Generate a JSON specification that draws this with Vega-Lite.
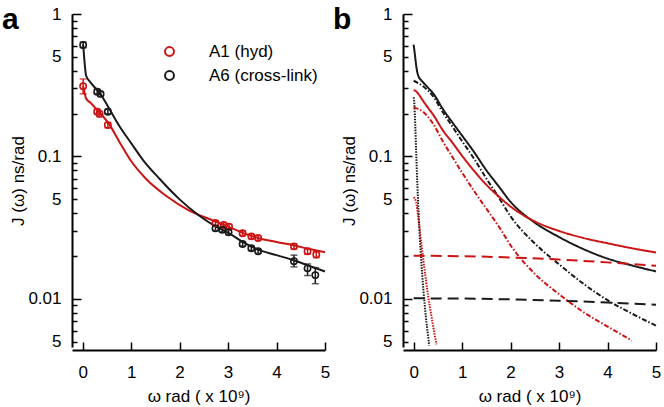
{
"$schema":"https://vega.github.io/schema/vega-lite/v6.json",
"autosize":{"type":"pad"},
"padding":{"left":2,"top":5,"right":2,"bottom":2},
"background":"white",
"spacing":78,
"bounds":"flush",
"config":{
 "view":{"stroke":null},
 "font":"Liberation Sans",
 "axis":{"domainColor":"#000","domainWidth":2,"tickColor":"#000","tickWidth":1.5,"labelFont":"Liberation Sans","labelFontSize":17,"labelColor":"#000","titleFont":"Liberation Sans","titleFontSize":17,"titleFontWeight":"normal","titleColor":"#000","grid":false,"labelFlush":false,"labelOverlap":false}
},
"resolve":{"scale":{"color":"independent","strokeDash":"independent"}},
"datasets":{
 "fitsA":[
  {"s":"A1 (hyd)","w":0.01,"J":0.311},{"s":"A1 (hyd)","w":0.04,"J":0.28},{"s":"A1 (hyd)","w":0.07,"J":0.255},{"s":"A1 (hyd)","w":0.15,"J":0.24},{"s":"A1 (hyd)","w":0.3,"J":0.212},{"s":"A1 (hyd)","w":0.55,"J":0.168},{"s":"A1 (hyd)","w":0.75,"J":0.128},{"s":"A1 (hyd)","w":0.97,"J":0.096},{"s":"A1 (hyd)","w":1.31,"J":0.0695},{"s":"A1 (hyd)","w":1.72,"J":0.053},{"s":"A1 (hyd)","w":2.2,"J":0.0417},{"s":"A1 (hyd)","w":2.69,"J":0.0355},{"s":"A1 (hyd)","w":3.0,"J":0.0322},{"s":"A1 (hyd)","w":3.3,"J":0.0291},{"s":"A1 (hyd)","w":3.62,"J":0.0268},{"s":"A1 (hyd)","w":4.0,"J":0.0251},{"s":"A1 (hyd)","w":4.37,"J":0.0237},{"s":"A1 (hyd)","w":4.7,"J":0.0223},{"s":"A1 (hyd)","w":5.0,"J":0.0213},
  {"s":"A6 (cross-link)","w":0.01,"J":0.61},{"s":"A6 (cross-link)","w":0.03,"J":0.5},{"s":"A6 (cross-link)","w":0.05,"J":0.42},{"s":"A6 (cross-link)","w":0.07,"J":0.37},{"s":"A6 (cross-link)","w":0.15,"J":0.335},{"s":"A6 (cross-link)","w":0.25,"J":0.305},{"s":"A6 (cross-link)","w":0.35,"J":0.28},{"s":"A6 (cross-link)","w":0.52,"J":0.225},{"s":"A6 (cross-link)","w":0.75,"J":0.165},{"s":"A6 (cross-link)","w":1.0,"J":0.124},{"s":"A6 (cross-link)","w":1.25,"J":0.094},{"s":"A6 (cross-link)","w":1.59,"J":0.0695},{"s":"A6 (cross-link)","w":2.0,"J":0.05},{"s":"A6 (cross-link)","w":2.4,"J":0.0385},{"s":"A6 (cross-link)","w":2.75,"J":0.0322},{"s":"A6 (cross-link)","w":3.0,"J":0.0292},{"s":"A6 (cross-link)","w":3.3,"J":0.0252},{"s":"A6 (cross-link)","w":3.62,"J":0.0222},{"s":"A6 (cross-link)","w":4.0,"J":0.0203},{"s":"A6 (cross-link)","w":4.37,"J":0.0186},{"s":"A6 (cross-link)","w":4.65,"J":0.0172},{"s":"A6 (cross-link)","w":5.0,"J":0.0156}
 ],
 "ptsA":[
  {"s":"A1 (hyd)","w":0.01,"J":0.311,"lo":0.275,"hi":0.35},
  {"s":"A1 (hyd)","w":0.30,"J":0.206,"lo":0.198,"hi":0.214},
  {"s":"A1 (hyd)","w":0.35,"J":0.199,"lo":0.191,"hi":0.207},
  {"s":"A1 (hyd)","w":0.52,"J":0.166,"lo":0.159,"hi":0.173},
  {"s":"A1 (hyd)","w":2.74,"J":0.0341,"lo":0.0328,"hi":0.0354},
  {"s":"A1 (hyd)","w":2.91,"J":0.033,"lo":0.0318,"hi":0.0343},
  {"s":"A1 (hyd)","w":3.02,"J":0.0322,"lo":0.031,"hi":0.0334},
  {"s":"A1 (hyd)","w":3.30,"J":0.0289,"lo":0.0279,"hi":0.03},
  {"s":"A1 (hyd)","w":3.48,"J":0.0275,"lo":0.0265,"hi":0.0285},
  {"s":"A1 (hyd)","w":3.62,"J":0.0268,"lo":0.0258,"hi":0.0278},
  {"s":"A1 (hyd)","w":4.36,"J":0.0234,"lo":0.0224,"hi":0.0244},
  {"s":"A1 (hyd)","w":4.64,"J":0.0216,"lo":0.0206,"hi":0.0226},
  {"s":"A1 (hyd)","w":4.82,"J":0.0205,"lo":0.0195,"hi":0.0215},
  {"s":"A6 (cross-link)","w":0.01,"J":0.606,"lo":0.58,"hi":0.635},
  {"s":"A6 (cross-link)","w":0.30,"J":0.285,"lo":0.275,"hi":0.296},
  {"s":"A6 (cross-link)","w":0.37,"J":0.275,"lo":0.265,"hi":0.285},
  {"s":"A6 (cross-link)","w":0.52,"J":0.206,"lo":0.199,"hi":0.214},
  {"s":"A6 (cross-link)","w":2.74,"J":0.0313,"lo":0.0302,"hi":0.0324},
  {"s":"A6 (cross-link)","w":2.88,"J":0.0306,"lo":0.0295,"hi":0.0317},
  {"s":"A6 (cross-link)","w":3.01,"J":0.0294,"lo":0.0284,"hi":0.0305},
  {"s":"A6 (cross-link)","w":3.30,"J":0.0243,"lo":0.0235,"hi":0.0251},
  {"s":"A6 (cross-link)","w":3.48,"J":0.0227,"lo":0.0219,"hi":0.0235},
  {"s":"A6 (cross-link)","w":3.62,"J":0.0216,"lo":0.0209,"hi":0.0223},
  {"s":"A6 (cross-link)","w":4.36,"J":0.0184,"lo":0.0168,"hi":0.0203},
  {"s":"A6 (cross-link)","w":4.64,"J":0.0164,"lo":0.0146,"hi":0.0176},
  {"s":"A6 (cross-link)","w":4.80,"J":0.0147,"lo":0.0128,"hi":0.0166}
 ],
 "linesB":[
  {"s":"A6 (cross-link)","c":"total","w":0,"J":0.61},{"s":"A6 (cross-link)","c":"total","w":0.025,"J":0.52},{"s":"A6 (cross-link)","c":"total","w":0.05,"J":0.44},{"s":"A6 (cross-link)","c":"total","w":0.075,"J":0.39},{"s":"A6 (cross-link)","c":"total","w":0.1,"J":0.365},{"s":"A6 (cross-link)","c":"total","w":0.15,"J":0.345},{"s":"A6 (cross-link)","c":"total","w":0.2,"J":0.33},{"s":"A6 (cross-link)","c":"total","w":0.3,"J":0.303},{"s":"A6 (cross-link)","c":"total","w":0.4,"J":0.278},{"s":"A6 (cross-link)","c":"total","w":0.6,"J":0.216},{"s":"A6 (cross-link)","c":"total","w":0.8,"J":0.173},{"s":"A6 (cross-link)","c":"total","w":1.0,"J":0.14},{"s":"A6 (cross-link)","c":"total","w":1.25,"J":0.107},{"s":"A6 (cross-link)","c":"total","w":1.5,"J":0.08},{"s":"A6 (cross-link)","c":"total","w":1.75,"J":0.062},{"s":"A6 (cross-link)","c":"total","w":2.0,"J":0.048},{"s":"A6 (cross-link)","c":"total","w":2.5,"J":0.0343},{"s":"A6 (cross-link)","c":"total","w":3.0,"J":0.0272},{"s":"A6 (cross-link)","c":"total","w":3.5,"J":0.0224},{"s":"A6 (cross-link)","c":"total","w":4.0,"J":0.0192},{"s":"A6 (cross-link)","c":"total","w":4.5,"J":0.0172},{"s":"A6 (cross-link)","c":"total","w":5.0,"J":0.0156},
  {"s":"A6 (cross-link)","c":"slow","w":0,"J":0.34},{"s":"A6 (cross-link)","c":"slow","w":0.2,"J":0.31},{"s":"A6 (cross-link)","c":"slow","w":0.4,"J":0.265},{"s":"A6 (cross-link)","c":"slow","w":0.6,"J":0.205},{"s":"A6 (cross-link)","c":"slow","w":0.8,"J":0.162},{"s":"A6 (cross-link)","c":"slow","w":1.0,"J":0.128},{"s":"A6 (cross-link)","c":"slow","w":1.25,"J":0.096},{"s":"A6 (cross-link)","c":"slow","w":1.5,"J":0.07},{"s":"A6 (cross-link)","c":"slow","w":1.75,"J":0.052},{"s":"A6 (cross-link)","c":"slow","w":2.0,"J":0.038},{"s":"A6 (cross-link)","c":"slow","w":2.5,"J":0.0245},{"s":"A6 (cross-link)","c":"slow","w":2.87,"J":0.019},{"s":"A6 (cross-link)","c":"slow","w":3.0,"J":0.0175},{"s":"A6 (cross-link)","c":"slow","w":3.5,"J":0.0128},{"s":"A6 (cross-link)","c":"slow","w":4.0,"J":0.0098},{"s":"A6 (cross-link)","c":"slow","w":4.5,"J":0.0079},{"s":"A6 (cross-link)","c":"slow","w":5.0,"J":0.0065},
  {"s":"A6 (cross-link)","c":"fast","w":0,"J":0.26},{"s":"A6 (cross-link)","c":"fast","w":0.01,"J":0.247},{"s":"A6 (cross-link)","c":"fast","w":0.025,"J":0.195},{"s":"A6 (cross-link)","c":"fast","w":0.05,"J":0.112},{"s":"A6 (cross-link)","c":"fast","w":0.075,"J":0.0654},{"s":"A6 (cross-link)","c":"fast","w":0.1,"J":0.0413},{"s":"A6 (cross-link)","c":"fast","w":0.15,"J":0.0201},{"s":"A6 (cross-link)","c":"fast","w":0.2,"J":0.0117},{"s":"A6 (cross-link)","c":"fast","w":0.25,"J":0.0076},{"s":"A6 (cross-link)","c":"fast","w":0.3,"J":0.0054},{"s":"A6 (cross-link)","c":"fast","w":0.32,"J":0.0047},
  {"s":"A6 (cross-link)","c":"const","w":0,"J":0.0101},{"s":"A6 (cross-link)","c":"const","w":1,"J":0.01006},{"s":"A6 (cross-link)","c":"const","w":2,"J":0.00993},{"s":"A6 (cross-link)","c":"const","w":3,"J":0.00972},{"s":"A6 (cross-link)","c":"const","w":4,"J":0.00944},{"s":"A6 (cross-link)","c":"const","w":5,"J":0.0091},
  {"s":"A1 (hyd)","c":"total","w":0,"J":0.293},{"s":"A1 (hyd)","c":"total","w":0.05,"J":0.287},{"s":"A1 (hyd)","c":"total","w":0.1,"J":0.274},{"s":"A1 (hyd)","c":"total","w":0.2,"J":0.244},{"s":"A1 (hyd)","c":"total","w":0.3,"J":0.219},{"s":"A1 (hyd)","c":"total","w":0.4,"J":0.197},{"s":"A1 (hyd)","c":"total","w":0.6,"J":0.153},{"s":"A1 (hyd)","c":"total","w":0.8,"J":0.125},{"s":"A1 (hyd)","c":"total","w":1.0,"J":0.101},{"s":"A1 (hyd)","c":"total","w":1.25,"J":0.079},{"s":"A1 (hyd)","c":"total","w":1.5,"J":0.0633},{"s":"A1 (hyd)","c":"total","w":1.75,"J":0.0526},{"s":"A1 (hyd)","c":"total","w":2.0,"J":0.0445},{"s":"A1 (hyd)","c":"total","w":2.5,"J":0.035},{"s":"A1 (hyd)","c":"total","w":3.0,"J":0.03},{"s":"A1 (hyd)","c":"total","w":3.5,"J":0.0268},{"s":"A1 (hyd)","c":"total","w":4.0,"J":0.0246},{"s":"A1 (hyd)","c":"total","w":4.5,"J":0.0227},{"s":"A1 (hyd)","c":"total","w":5.0,"J":0.0212},
  {"s":"A1 (hyd)","c":"slow","w":0,"J":0.221},{"s":"A1 (hyd)","c":"slow","w":0.2,"J":0.205},{"s":"A1 (hyd)","c":"slow","w":0.4,"J":0.17},{"s":"A1 (hyd)","c":"slow","w":0.6,"J":0.128},{"s":"A1 (hyd)","c":"slow","w":0.8,"J":0.099},{"s":"A1 (hyd)","c":"slow","w":1.0,"J":0.077},{"s":"A1 (hyd)","c":"slow","w":1.25,"J":0.057},{"s":"A1 (hyd)","c":"slow","w":1.5,"J":0.043},{"s":"A1 (hyd)","c":"slow","w":1.75,"J":0.0325},{"s":"A1 (hyd)","c":"slow","w":2.0,"J":0.0238},{"s":"A1 (hyd)","c":"slow","w":2.5,"J":0.015},{"s":"A1 (hyd)","c":"slow","w":3.0,"J":0.0108},{"s":"A1 (hyd)","c":"slow","w":3.5,"J":0.0081},{"s":"A1 (hyd)","c":"slow","w":4.0,"J":0.0064},{"s":"A1 (hyd)","c":"slow","w":4.5,"J":0.0051},
  {"s":"A1 (hyd)","c":"fast","w":0,"J":0.0517},{"s":"A1 (hyd)","c":"fast","w":0.05,"J":0.048},{"s":"A1 (hyd)","c":"fast","w":0.1,"J":0.036},{"s":"A1 (hyd)","c":"fast","w":0.15,"J":0.026},{"s":"A1 (hyd)","c":"fast","w":0.2,"J":0.0187},{"s":"A1 (hyd)","c":"fast","w":0.25,"J":0.0138},{"s":"A1 (hyd)","c":"fast","w":0.3,"J":0.0104},{"s":"A1 (hyd)","c":"fast","w":0.35,"J":0.0082},{"s":"A1 (hyd)","c":"fast","w":0.4,"J":0.0065},{"s":"A1 (hyd)","c":"fast","w":0.47,"J":0.0048},
  {"s":"A1 (hyd)","c":"const","w":0,"J":0.0201},{"s":"A1 (hyd)","c":"const","w":1,"J":0.01996},{"s":"A1 (hyd)","c":"const","w":2,"J":0.01955},{"s":"A1 (hyd)","c":"const","w":3,"J":0.0189},{"s":"A1 (hyd)","c":"const","w":4,"J":0.01806},{"s":"A1 (hyd)","c":"const","w":5,"J":0.0171}
 ]
},
"hconcat":[
 {
  "width":253,"height":333,
  "title":{"text":"a","anchor":"start","frame":"group","fontSize":30,"fontWeight":"bold","font":"Liberation Sans","baseline":"alphabetic","offset":-37,"dx":-70,"dy":17,"color":"#000"},
  "resolve":{"scale":{"color":"independent"}},
  "layer":[
   {"data":{"name":"fitsA"},"mark":{"type":"line","strokeWidth":2,"interpolate":"monotone"},
    "encoding":{
     "x":{"field":"w","type":"quantitative","scale":{"domain":[-0.22,5],"nice":false,"zero":false},"axis":{"values":[0,1,2,3,4,5],"tickSize":-8,"labelPadding":22,"offset":3,"title":"ω rad ( x 10⁹)","titlePadding":8,"format":"d"}},
     "y":{"field":"J","type":"quantitative","scale":{"type":"log","domain":[0.0046,1],"nice":false},"axis":{"values":[0.005,0.006,0.007,0.008,0.009,0.01,0.02,0.03,0.04,0.05,0.06,0.07,0.08,0.09,0.1,0.2,0.3,0.4,0.5,0.6,0.7,0.8,0.9,1],"labelExpr":"datum.value==1?'1':datum.value==0.1?'0.1':datum.value==0.01?'0.01':(datum.value==0.5||datum.value==0.05||datum.value==0.005)?'5':''","tickSize":{"condition":{"test":"datum.value==1||datum.value==0.1||datum.value==0.01","value":-9},"value":-5},"labelPadding":{"condition":{"test":"datum.value==1||datum.value==0.1||datum.value==0.01","value":20},"value":16},"title":"J (ω) ns/rad","titleX":-45}},
     "color":{"field":"s","type":"nominal","scale":{"domain":["A1 (hyd)","A6 (cross-link)"],"range":["#cc1414","#1a1a1a"]},"legend":null}
    }},
   {"data":{"name":"ptsA"},"mark":{"type":"errorbar","ticks":{"size":7},"thickness":1.5},
    "encoding":{
     "x":{"field":"w","type":"quantitative","scale":{"domain":[-0.22,5],"nice":false,"zero":false},"axis":{"values":[0,1,2,3,4,5],"tickSize":-8,"labelPadding":22,"offset":3,"title":"ω rad ( x 10⁹)","titlePadding":8,"format":"d"}},
     "y":{"field":"lo","type":"quantitative","scale":{"type":"log","domain":[0.0046,1],"nice":false},"axis":{"values":[0.005,0.006,0.007,0.008,0.009,0.01,0.02,0.03,0.04,0.05,0.06,0.07,0.08,0.09,0.1,0.2,0.3,0.4,0.5,0.6,0.7,0.8,0.9,1],"labelExpr":"datum.value==1?'1':datum.value==0.1?'0.1':datum.value==0.01?'0.01':(datum.value==0.5||datum.value==0.05||datum.value==0.005)?'5':''","tickSize":{"condition":{"test":"datum.value==1||datum.value==0.1||datum.value==0.01","value":-9},"value":-5},"labelPadding":{"condition":{"test":"datum.value==1||datum.value==0.1||datum.value==0.01","value":20},"value":16},"title":"J (ω) ns/rad","titleX":-45}},
     "y2":{"field":"hi"},
     "color":{"field":"s","type":"nominal","scale":{"domain":["A1 (hyd)","A6 (cross-link)"],"range":["#cc1414","#1a1a1a"]},"legend":null}
    }},
   {"data":{"name":"ptsA"},"mark":{"type":"point","shape":"circle","filled":false,"size":40,"strokeWidth":1.6,"opacity":1},
    "encoding":{
     "x":{"field":"w","type":"quantitative","scale":{"domain":[-0.22,5],"nice":false,"zero":false},"axis":{"values":[0,1,2,3,4,5],"tickSize":-8,"labelPadding":22,"offset":3,"title":"ω rad ( x 10⁹)","titlePadding":8,"format":"d"}},
     "y":{"field":"J","type":"quantitative","scale":{"type":"log","domain":[0.0046,1],"nice":false},"axis":{"values":[0.005,0.006,0.007,0.008,0.009,0.01,0.02,0.03,0.04,0.05,0.06,0.07,0.08,0.09,0.1,0.2,0.3,0.4,0.5,0.6,0.7,0.8,0.9,1],"labelExpr":"datum.value==1?'1':datum.value==0.1?'0.1':datum.value==0.01?'0.01':(datum.value==0.5||datum.value==0.05||datum.value==0.005)?'5':''","tickSize":{"condition":{"test":"datum.value==1||datum.value==0.1||datum.value==0.01","value":-9},"value":-5},"labelPadding":{"condition":{"test":"datum.value==1||datum.value==0.1||datum.value==0.01","value":20},"value":16},"title":"J (ω) ns/rad","titleX":-45}},
     "color":{"field":"s","type":"nominal","scale":{"domain":["A1 (hyd)","A6 (cross-link)"],"range":["#cc1414","#1a1a1a"]},"legend":{"title":null,"orient":"none","legendX":89,"legendY":29,"symbolType":"circle","symbolSize":80,"symbolStrokeWidth":2,"symbolFillColor":"transparent","symbolOpacity":1,"labelFontSize":17,"labelFont":"Liberation Sans","labelColor":"#000","labelOffset":31,"rowPadding":6,"padding":0}}
    }}
  ]
 },
 {
  "width":253,"height":333,
  "title":{"text":"b","anchor":"start","frame":"group","fontSize":30,"fontWeight":"bold","font":"Liberation Sans","baseline":"alphabetic","offset":-37,"dx":-70,"dy":17,"color":"#000"},
  "data":{"name":"linesB"},
  "mark":{"type":"line","strokeWidth":2,"interpolate":"monotone"},
  "encoding":{
   "x":{"field":"w","type":"quantitative","scale":{"domain":[-0.22,5],"nice":false,"zero":false},"axis":{"values":[0,1,2,3,4,5],"tickSize":-8,"labelPadding":22,"offset":3,"title":"ω rad ( x 10⁹)","titlePadding":8,"format":"d"}},
   "y":{"field":"J","type":"quantitative","scale":{"type":"log","domain":[0.0046,1],"nice":false},"axis":{"values":[0.005,0.006,0.007,0.008,0.009,0.01,0.02,0.03,0.04,0.05,0.06,0.07,0.08,0.09,0.1,0.2,0.3,0.4,0.5,0.6,0.7,0.8,0.9,1],"labelExpr":"datum.value==1?'1':datum.value==0.1?'0.1':datum.value==0.01?'0.01':(datum.value==0.5||datum.value==0.05||datum.value==0.005)?'5':''","tickSize":{"condition":{"test":"datum.value==1||datum.value==0.1||datum.value==0.01","value":-9},"value":-5},"labelPadding":{"condition":{"test":"datum.value==1||datum.value==0.1||datum.value==0.01","value":20},"value":16},"title":"J (ω) ns/rad","titleX":-45}},
   "color":{"field":"s","type":"nominal","scale":{"domain":["A1 (hyd)","A6 (cross-link)"],"range":["#cc1414","#1a1a1a"]},"legend":null},
   "strokeDash":{"field":"c","type":"nominal","scale":{"domain":["total","slow","fast","const"],"range":[[1,0],[5,2,1.5,2],[1.5,1.2],[11,6]]},"legend":null}
  }
 }
]
}
